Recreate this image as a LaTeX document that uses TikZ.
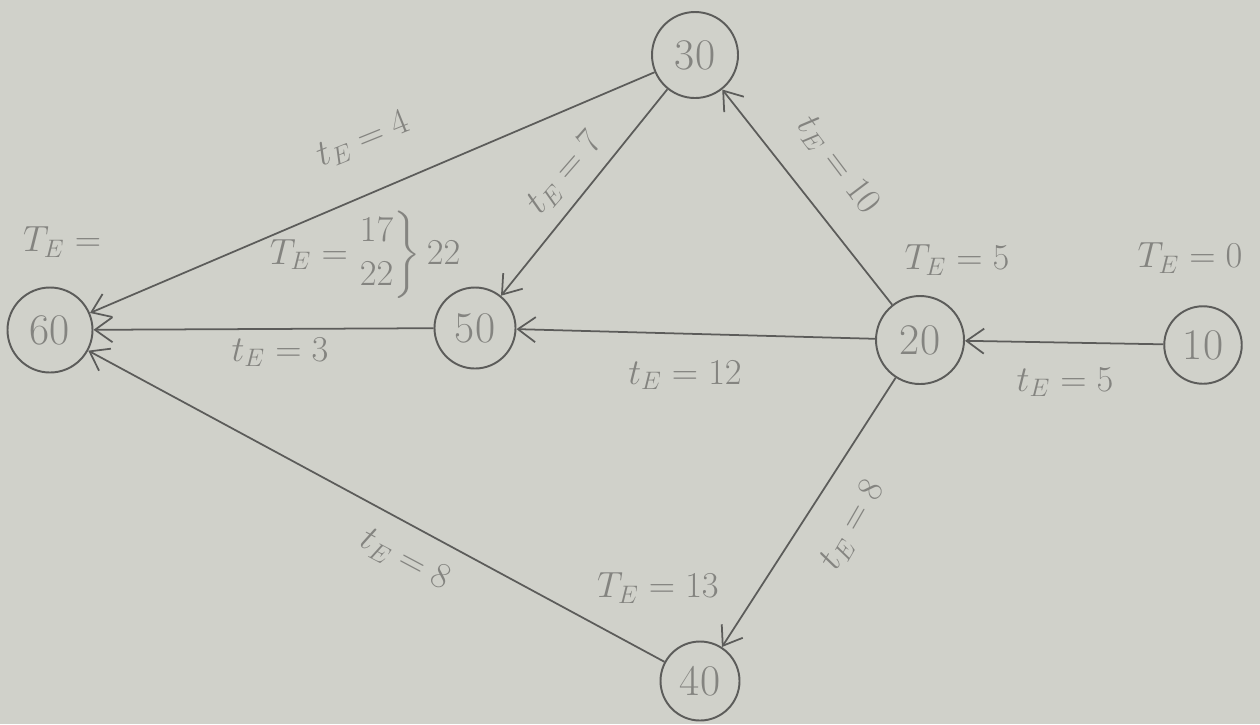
\documentclass[tikz,border=0pt]{standalone}
\usepackage{amsmath}
\usepackage{tikz}
\usetikzlibrary{arrows.meta,positioning}
\definecolor{paper}{RGB}{208,209,202}
\definecolor{pencil}{RGB}{92,92,90}
\definecolor{lead}{RGB}{132,132,128}

\begin{document}
\begin{tikzpicture}[
    event/.style={circle,draw=pencil,line width=1.1pt,minimum size=1.65cm,inner sep=0pt,text=lead,font=\Huge},
    activity/.style={draw=pencil,line width=1pt,-{Straight Barb[length=3.5mm,width=5mm]}},
    timelab/.style={text=lead,font=\huge,inner sep=1pt}
]
    % Paper
    \fill[paper] (0,0) rectangle (25.2,-14.48);
    \useasboundingbox (0,0) rectangle (25.2,-14.48);

    % Events
    \node[event,minimum size=1.55cm] (e10) at (24.06,-6.9) {10};
    \node[event,minimum size=1.76cm] (e20) at (18.4,-6.8) {20};
    \node[event,minimum size=1.72cm] (e30) at (13.9,-1.1) {30};
    \node[event,minimum size=1.58cm] (e40) at (14.0,-13.62) {40};
    \node[event,minimum size=1.62cm] (e50) at (9.5,-6.56) {50};
    \node[event,minimum size=1.7cm] (e60) at (1.0,-6.6) {60};

    % Activities
    \draw[activity] (e10) -- (e20);
    \draw[activity] (e20) -- (e30);
    \draw[activity] (e20) -- (e50);
    \draw[activity] (e20) -- (e40);
    \draw[activity] (e30) -- (e50);
    \draw[activity] (e30) -- (e60);
    \draw[activity] (e50) -- (e60);
    \draw[activity] (e40) -- (e60);

    % Activity times
    \node[timelab] (t1020) at (21.3,-7.64) {$t_E = 5$};
    \node[timelab,rotate=-53] (t2030) at (16.75,-3.3) {$t_E = 10$};
    \node[timelab] (t2050) at (13.7,-7.5) {$t_E = 12$};
    \node[timelab,rotate=60] (t2040) at (17.05,-10.5) {$t_E = 8$};
    \node[timelab,rotate=49] (t3050) at (11.3,-3.46) {$t_E = 7$};
    \node[timelab,rotate=22] (t3060) at (7.26,-2.8) {$t_E = 4$};
    \node[timelab] (t5060) at (5.6,-7.04) {$t_E = 3$};
    \node[timelab,rotate=-28] (t4060) at (8.1,-11.2) {$t_E = 8$};

    % Event times
    \node[timelab] (T10) at (23.8,-5.16) {$T_E = 0$};
    \node[timelab] (T20) at (19.14,-5.2) {$T_E = 5$};
    \node[timelab] (T50) at (7.3,-5.1) {$T_E = \left.\begin{matrix}17\\22\end{matrix}\right\}22$};
    \node[timelab] (T40) at (13.16,-11.76) {$T_E = 13$};
    \node[timelab] (T60) at (1.24,-4.84) {$T_E =$};
\end{tikzpicture}
\end{document}
